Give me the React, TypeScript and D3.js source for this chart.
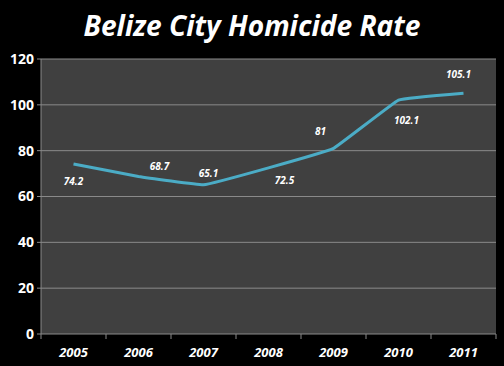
import React from "react";
import * as d3 from "d3";

const years = ["2005", "2006", "2007", "2008", "2009", "2010", "2011"];
const rates = [74.2, 68.7, 65.1, 72.5, 81, 102.1, 105.1];
const labels = ["74.2", "68.7", "65.1", "72.5", "81", "102.1", "105.1"];
const yTicks = [0, 20, 40, 60, 80, 100, 120];
// label placement: [dx, dy] relative to point
const labelOffsets: [number, number][] = [
  [0, 18],
  [21, -10],
  [5, -11],
  [16, 13],
  [-13, -17],
  [8, 20],
  [-5, -19],
];

const W = 504;
const H = 366;
const margin = { left: 41, right: 8, top: 59, bottom: 32 };

export default function App() {
  const x = d3
    .scaleBand<string>()
    .domain(years)
    .range([margin.left, W - margin.right])
    .padding(0);
  const y = d3
    .scaleLinear()
    .domain([0, 120])
    .range([H - margin.bottom, margin.top]);
  const cx = (i: number) => (x(years[i]) as number) + x.bandwidth() / 2;
  const line = d3
    .line<number>()
    .x((_, i) => cx(i))
    .y((d) => y(d))
    .curve(d3.curveCardinal.tension(0.8));
  const font = "'Open Sans', 'DejaVu Sans', sans-serif";
  const x0 = margin.left;
  const x1 = W - margin.right;
  return (
    <svg
      width={W}
      height={H}
      style={{ position: "absolute", left: 0, top: 0, background: "#000" }}
    >
      <rect x={0} y={0} width={W} height={H} fill="#000" />
      <text
        x={252}
        y={36}
        textAnchor="middle"
        fill="#fff"
        fontFamily={font}
        fontWeight="bold"
        fontStyle="italic"
        fontSize={28}
        textLength={337}
        lengthAdjust="spacingAndGlyphs"
      >
        Belize City Homicide Rate
      </text>
      <rect
        x={x0}
        y={y(120)}
        width={x1 - x0}
        height={y(0) - y(120)}
        fill="#404040"
      />
      {yTicks.map((t) => (
        <g key={t}>
          {t > 0 && (
            <line
              x1={x0}
              x2={x1}
              y1={y(t)}
              y2={y(t)}
              stroke="#8a8a8a"
              strokeWidth={1}
            />
          )}
          <line x1={x0 - 4} x2={x0} y1={y(t)} y2={y(t)} stroke="#8a8a8a" />
          <text
            x={x0 - 7}
            y={y(t)}
            dy="0.35em"
            textAnchor="end"
            fill="#fff"
            fontFamily={font}
            fontWeight="bold"
            fontSize={14}
          >
            {t}
          </text>
        </g>
      ))}
      <line x1={x0} x2={x0} y1={y(120)} y2={y(0)} stroke="#8a8a8a" />
      <line x1={x0} x2={x1} y1={y(0)} y2={y(0)} stroke="#8a8a8a" />
      {years.map((yr, i) => (
        <g key={yr}>
          <line
            x1={(x(yr) as number)}
            x2={(x(yr) as number)}
            y1={y(0)}
            y2={y(0) + 5}
            stroke="#8a8a8a"
          />
          <text
            x={cx(i)}
            y={357}
            textAnchor="middle"
            fill="#fff"
            fontFamily={font}
            fontWeight="bold"
            fontStyle="italic"
            fontSize={13}
          >
            {yr}
          </text>
        </g>
      ))}
      <line x1={x1} x2={x1} y1={y(0)} y2={y(0) + 5} stroke="#8a8a8a" />
      <path
        d={line(rates) || ""}
        fill="none"
        stroke="#4bacc6"
        strokeWidth={3}
        strokeLinejoin="round"
      />
      {rates.map((v, i) => (
        <text
          key={i}
          x={cx(i) + labelOffsets[i][0]}
          y={y(v) + labelOffsets[i][1]}
          dy="0.35em"
          textAnchor="middle"
          fill="#fff"
          fontFamily={font}
          fontWeight="bold"
          fontStyle="italic"
          fontSize={10}
        >
          {labels[i]}
        </text>
      ))}
    </svg>
  );
}
